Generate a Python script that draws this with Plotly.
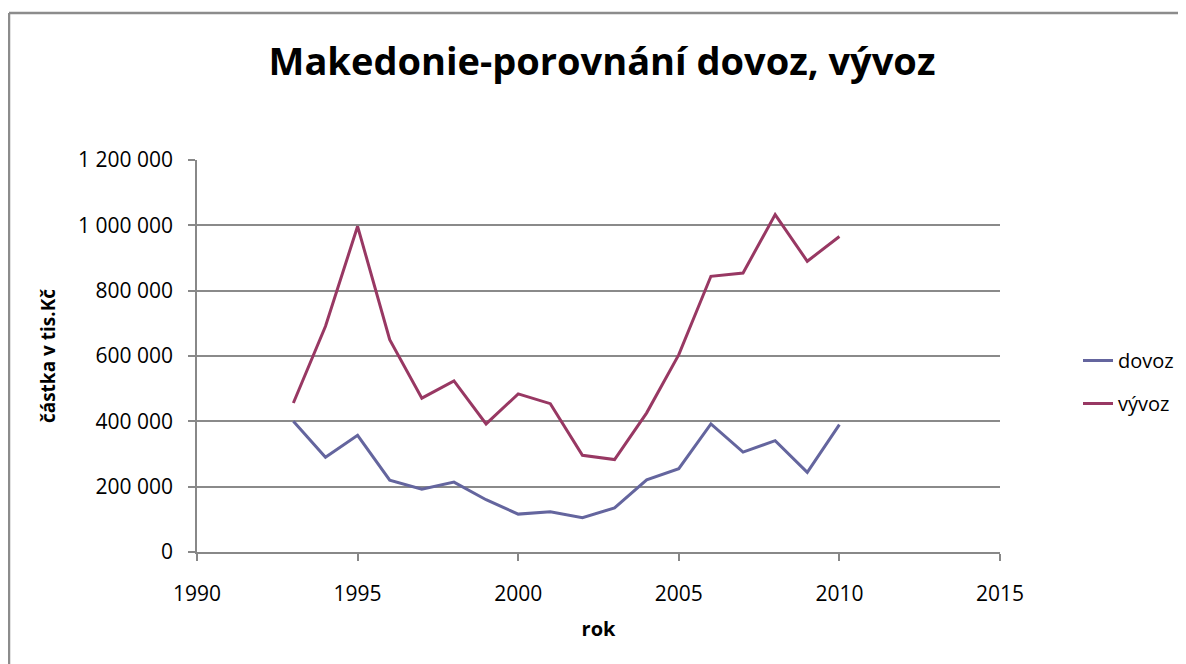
import plotly.graph_objects as go

years = [1993, 1994, 1995, 1996, 1997, 1998, 1999, 2000, 2001, 2002,
         2003, 2004, 2005, 2006, 2007, 2008, 2009, 2010]
dovoz = [400000, 290000, 357000, 220000, 192000, 214000, 160000, 116000, 123000, 105000,
         135000, 221000, 255000, 392000, 306000, 341000, 244000, 390000]
vyvoz = [456000, 691000, 997000, 650000, 471000, 524000, 392000, 484000, 454000, 296000,
         283000, 426000, 604000, 844000, 854000, 1033000, 890000, 966000]

title_text = "Makedonie-porovnání dovoz, vývoz"
x_title = "rok"
y_title = "částka v tis.Kč"

# page is offset by the 8px body margin
OFF = 8
PAGE_W, PAGE_H = 1186, 664
W, H = PAGE_W - OFF, PAGE_H - OFF
L, R, T, B = 197 - OFF, 186, 160 - OFF, 112
pw, ph = W - L - R, H - T - B

def px(x):  # page px -> paper
    return (x - OFF - L) / pw

def py(y):
    return (H - B - (y - OFF)) / ph

FONT = "Open Sans, Liberation Sans, sans-serif"

fig = go.Figure()
fig.add_trace(go.Scatter(x=years, y=dovoz, mode="lines", name="dovoz", legendgroup="a",
                         line=dict(color="#64659E", width=3)))
fig.add_trace(go.Scatter(x=years, y=vyvoz, mode="lines", name="vývoz", legendgroup="b",
                         line=dict(color="#983863", width=3)))

fig.update_layout(
    width=W, height=H,
    margin=dict(l=L, r=R, t=T, b=B, autoexpand=False),
    paper_bgcolor="white", plot_bgcolor="white",
    separators=", ",
    font=dict(family=FONT, color="black", size=21),
    title=dict(text="<b>" + title_text + "</b>", x=(602 - OFF) / W, xref="container", xanchor="center",
               y=1 - (62 - OFF) / H, yref="container", yanchor="middle",
               font=dict(family=FONT, size=38, color="black")),
    showlegend=True,
    legend=dict(x=px(1078), y=py(341), xanchor="left", yanchor="top",
                font=dict(size=20), tracegroupgap=14, bgcolor="rgba(0,0,0,0)"),
    xaxis=dict(range=[1990, 2015], tickvals=[1990, 1995, 2000, 2005, 2010, 2015],
               showgrid=False, showline=True, linecolor="#888888", linewidth=1.5,
               ticks="outside", ticklen=7, tickcolor="#888888", tickwidth=1.5,
               ticklabelstandoff=15, tickfont=dict(size=21),
               title=dict(text="<b>" + x_title + "</b>", font=dict(size=20), standoff=16),
               zeroline=False, fixedrange=True),
    yaxis=dict(range=[0, 1200000], tickvals=[0, 200000, 400000, 600000, 800000, 1000000, 1200000],
               tickformat=",d", showgrid=True, gridcolor="#8a8a8a", gridwidth=1.5,
               showline=True, linecolor="#888888", linewidth=1.5,
               ticks="outside", ticklen=7, tickcolor="#888888", tickwidth=1.5,
               ticklabelstandoff=11, tickfont=dict(size=21),
               title=dict(text="<b>" + y_title + "</b>", font=dict(size=19), standoff=17),
               zeroline=False, fixedrange=True),
    shapes=[
        dict(type="line", xref="paper", yref="paper", x0=px(9), x1=px(9), y0=py(13), y1=py(700),
             line=dict(color="#8c8c8c", width=2.5)),
        dict(type="line", xref="paper", yref="paper", x0=px(9), x1=px(1200), y0=py(13), y1=py(13),
             line=dict(color="#8c8c8c", width=2.5)),
    ],
)

fig.write_html("out.html")
